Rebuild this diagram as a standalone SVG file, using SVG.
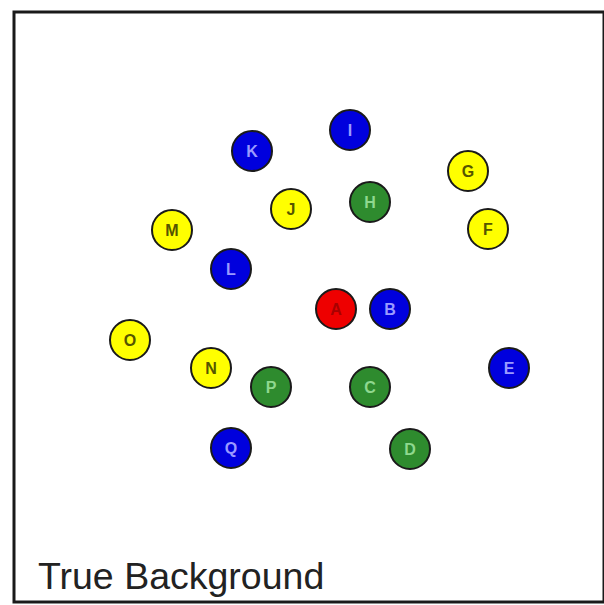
<svg xmlns="http://www.w3.org/2000/svg" width="604" height="605" viewBox="0 0 604 605">
<style>
.n circle{stroke:#1a1a1a;stroke-width:2}
.n text{font-family:"Liberation Sans",Arial,sans-serif;font-size:16px;font-weight:bold;text-anchor:middle;dominant-baseline:central}
.r circle{fill:#ee0000}.r text{fill:#a80000}
.b circle{fill:#0000dd}.b text{fill:#9a9aff}
.g circle{fill:#2e8b2e}.g text{fill:#8fd88f}
.y circle{fill:#ffff00}.y text{fill:#555500}
.lbl{font-family:"Liberation Sans",Arial,sans-serif;font-size:37.5px;fill:#222}
</style>
<rect x="0" y="0" width="604" height="605" fill="#fff"/>
<rect x="14" y="12" width="590" height="590" fill="#fff" stroke="#1a1a1a" stroke-width="3"/>
<g id="connectors"></g>
<g id="A" class="n r"><circle cx="336" cy="309" r="20"/><text x="336" y="309">A</text></g>
<g id="B" class="n b"><circle cx="390" cy="309" r="20"/><text x="390" y="309">B</text></g>
<g id="C" class="n g"><circle cx="370" cy="387" r="20"/><text x="370" y="387">C</text></g>
<g id="D" class="n g"><circle cx="410" cy="449" r="20"/><text x="410" y="449">D</text></g>
<g id="E" class="n b"><circle cx="509" cy="368" r="20"/><text x="509" y="368">E</text></g>
<g id="F" class="n y"><circle cx="488" cy="229" r="20"/><text x="488" y="229">F</text></g>
<g id="G" class="n y"><circle cx="468" cy="171" r="20"/><text x="468" y="171">G</text></g>
<g id="H" class="n g"><circle cx="370" cy="202" r="20"/><text x="370" y="202">H</text></g>
<g id="I" class="n b"><circle cx="350" cy="130" r="20"/><text x="350" y="130">I</text></g>
<g id="J" class="n y"><circle cx="291" cy="209" r="20"/><text x="291" y="209">J</text></g>
<g id="K" class="n b"><circle cx="252" cy="151" r="20"/><text x="252" y="151">K</text></g>
<g id="L" class="n b"><circle cx="231" cy="269" r="20"/><text x="231" y="269">L</text></g>
<g id="M" class="n y"><circle cx="172" cy="230" r="20"/><text x="172" y="230">M</text></g>
<g id="N" class="n y"><circle cx="211" cy="368" r="20"/><text x="211" y="368">N</text></g>
<g id="O" class="n y"><circle cx="130" cy="340" r="20"/><text x="130" y="340">O</text></g>
<g id="P" class="n g"><circle cx="271" cy="387" r="20"/><text x="271" y="387">P</text></g>
<g id="Q" class="n b"><circle cx="231" cy="448" r="20"/><text x="231" y="448">Q</text></g>
<text class="lbl" x="38" y="589">True Background</text>
</svg>
